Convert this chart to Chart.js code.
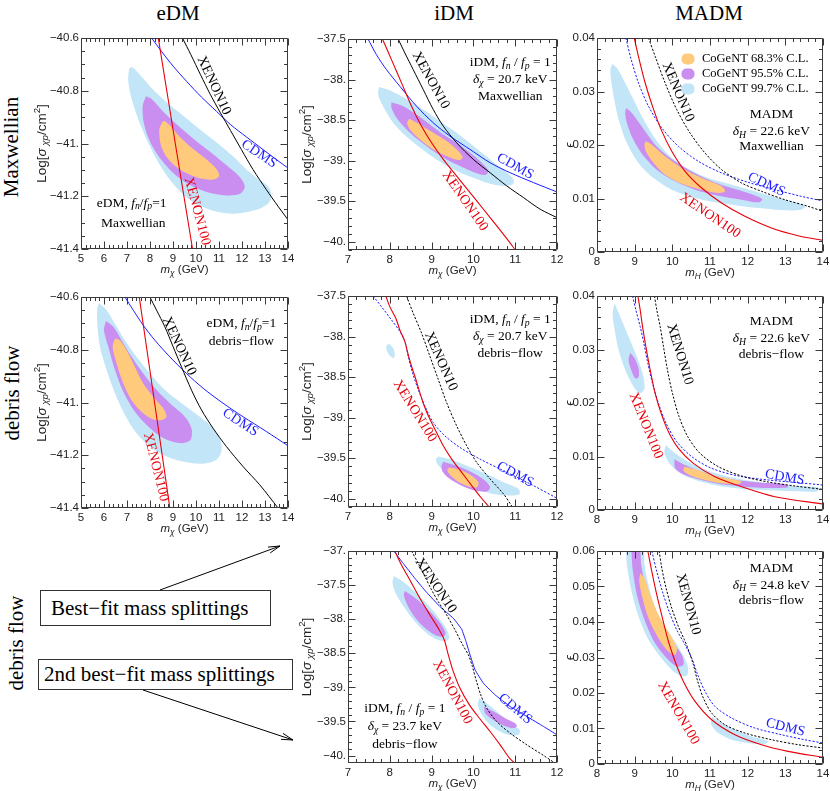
<!DOCTYPE html>
<html><head><meta charset="utf-8">
<script src="https://cdn.jsdelivr.net/npm/chart.js@4.4.1/dist/chart.umd.min.js"></script>
<style>
html,body{margin:0;padding:0;background:#fff;}
body{position:relative;width:830px;height:791px;overflow:hidden;font-family:'Liberation Serif','Times New Roman',serif;color:#000;}
canvas{position:absolute;}
.lbl{position:absolute;font-size:21px;white-space:nowrap;line-height:1;}
.rot{transform:translate(-50%,-50%) rotate(-90deg);}
.ctr{transform:translate(-50%,-50%);}
.box{position:absolute;border:1px solid #333;font-size:21px;white-space:nowrap;box-sizing:border-box;}
</style></head><body>
<div class="lbl ctr" style="left:178px;top:12.5px">eDM</div>
<div class="lbl ctr" style="left:454px;top:12.5px">iDM</div>
<div class="lbl ctr" style="left:709px;top:12.5px">MADM</div>
<div class="lbl rot" style="left:11px;top:147px">Maxwellian</div>
<div class="lbl rot" style="left:12px;top:393px">debris flow</div>
<div class="lbl rot" style="left:16px;top:643px">debris flow</div>
<div class="box" style="left:40px;top:590px;width:231px;height:36px;line-height:34px;padding-left:10px">Best−fit mass splittings</div>
<div class="box" style="left:38px;top:659px;width:255px;height:31px;line-height:29px;padding-left:5px">2nd best−fit mass splittings</div>
<svg width="830" height="791" style="position:absolute;left:0;top:0">
<g stroke="#000" stroke-width="1" fill="none">
<line x1="160" y1="590" x2="280" y2="546"/>
<polyline points="268,547.1 280,546 270.2,552.9"/>
<line x1="143" y1="690" x2="293" y2="740"/>
<polyline points="283,733.4 293,740 281,739.3"/>
</g></svg>
<script>
// ---------- tick values / labels ----------
const EDM_X = [5,6,7,8,9,10,11,12,13,14];
const EDM_X_LABELS = ['5','6','7','8','9','10','11','12','13','14'];
const IDM_X = [7,8,9,10,11,12];
const IDM_X_LABELS = ['7','8','9','10','11','12'];
const MADM_X = [8,9,10,11,12,13,14];
const MADM_X_LABELS = ['8','9','10','11','12','13','14'];
const EDM_Y = [-41.4,-41.2,-41,-40.8,-40.6];
const EDM_Y_LABELS = ['−41.4','−41.2','−41.','−40.8','−40.6'];
const IDM_Y = [-40,-39.5,-39,-38.5,-38,-37.5];
const IDM_Y_LABELS = ['−40.','−39.5','−39.','−38.5','−38.','−37.5'];
const IDM2_Y = [-40,-39.5,-39,-38.5,-38,-37.5,-37];
const IDM2_Y_LABELS = ['−40.','−39.5','−39.','−38.5','−38.','−37.5','−37.'];
const MADM_Y = [0,0.01,0.02,0.03,0.04];
const MADM_Y_LABELS = ['0','0.01','0.02','0.03','0.04'];
const MADM2_Y = [0,0.01,0.02,0.03,0.04,0.05,0.06];
const MADM2_Y_LABELS = ['0','0.01','0.02','0.03','0.04','0.05','0.06'];
const LEGEND_LABELS = ['CoGeNT 68.3% C.L.','CoGeNT 95.5% C.L.','CoGeNT 99.7% C.L.'];

// ---------- panel 1: eDM Maxwellian ----------
const P1_BLUE = [[7.10,-40.714],[7.05,-40.758],[7.17,-40.821],[7.42,-40.891],[7.73,-40.960],[8.14,-41.036],[8.65,-41.112],[9.23,-41.175],[9.95,-41.226],[10.82,-41.257],[11.68,-41.266],[12.55,-41.253],[13.13,-41.228],[13.28,-41.194],[13.13,-41.162],[12.70,-41.135],[12.19,-41.099],[11.69,-41.055],[11.11,-41.011],[10.46,-40.967],[9.66,-40.910],[8.86,-40.853],[8.14,-40.796],[7.56,-40.739],[7.24,-40.711]];
const P1_MAG = [[7.82,-40.821],[7.68,-40.859],[7.73,-40.922],[8.00,-40.992],[8.43,-41.055],[9.01,-41.112],[9.66,-41.154],[10.46,-41.184],[11.32,-41.197],[11.93,-41.190],[12.12,-41.162],[11.90,-41.127],[11.47,-41.093],[10.89,-41.051],[10.24,-41.007],[9.59,-40.960],[8.94,-40.910],[8.43,-40.865],[8.07,-40.831]];
const P1_ORG = [[8.55,-40.916],[8.40,-40.950],[8.49,-41.011],[8.79,-41.059],[9.30,-41.099],[10.02,-41.128],[10.72,-41.137],[11.00,-41.124],[10.89,-41.097],[10.46,-41.061],[9.88,-41.021],[9.30,-40.975],[8.86,-40.932],[8.65,-40.916]];
const P1_XE100 = [[8.36,-40.6],[9.10,-41.0],[9.85,-41.4]];
const P1_XE10 = [[9.41,-40.6],[9.775,-40.663],[10.195,-40.739],[10.629,-40.815],[11.063,-40.884],[11.497,-40.950],[11.974,-41.023],[12.481,-41.099],[13.06,-41.175],[13.566,-41.238],[14.0,-41.289]];
const P1_CDMS = [[8.068,-40.6],[8.502,-40.651],[9.008,-40.707],[9.587,-40.764],[10.238,-40.824],[10.889,-40.878],[11.511,-40.929],[12.191,-40.975],[12.915,-41.023],[13.494,-41.061],[14.0,-41.093]];

// ---------- panel 2: iDM Maxwellian ----------
const P2_BLUE = [[7.744,-38.090],[8.000,-38.131],[8.400,-38.238],[8.800,-38.369],[9.200,-38.512],[9.600,-38.656],[10.000,-38.820],[10.400,-38.984],[10.760,-39.127],[10.960,-39.230],[10.944,-39.291],[10.720,-39.311],[10.400,-39.283],[10.000,-39.209],[9.600,-39.127],[9.200,-39.012],[8.800,-38.869],[8.400,-38.705],[8.080,-38.533],[7.840,-38.328],[7.720,-38.184]];
const P2_MAG = [[8.04,-38.279],[8.32,-38.328],[8.64,-38.430],[8.96,-38.553],[9.28,-38.676],[9.60,-38.779],[9.92,-38.902],[10.20,-39.025],[10.36,-39.127],[10.28,-39.176],[10.04,-39.148],[9.68,-39.066],[9.36,-38.984],[9.04,-38.881],[8.72,-38.758],[8.40,-38.615],[8.16,-38.471],[8.04,-38.348]];
const P2_ORG = [[8.464,-38.484],[8.72,-38.553],[9.04,-38.656],[9.36,-38.758],[9.64,-38.881],[9.744,-38.963],[9.64,-38.992],[9.36,-38.943],[9.04,-38.861],[8.72,-38.738],[8.48,-38.615],[8.416,-38.533]];
const P2_XE100 = [[7.824,-37.5],[8.04,-37.754],[8.28,-38.041],[8.52,-38.328],[8.76,-38.574],[9.00,-38.779],[9.28,-38.984],[9.60,-39.189],[9.92,-39.393],[10.24,-39.598],[10.56,-39.803],[10.84,-39.988],[11.00,-40.098]];
const P2_XE10 = [[8.20,-37.5],[8.36,-37.672],[8.56,-37.877],[8.80,-38.123],[9.04,-38.369],[9.28,-38.574],[9.60,-38.779],[10.00,-38.984],[10.40,-39.148],[10.80,-39.311],[11.20,-39.455],[11.60,-39.598],[12.00,-39.701]];
const P2_CDMS = [[7.48,-37.5],[7.68,-37.693],[7.92,-37.877],[8.24,-38.082],[8.64,-38.328],[9.04,-38.533],[9.44,-38.697],[9.92,-38.861],[10.40,-39.025],[10.88,-39.148],[11.44,-39.270],[12.00,-39.385]];

// ---------- panel 3: MADM Maxwellian ----------
const P3_BLUE = [[8.415,0.03514],[8.529,0.03439],[8.706,0.03221],[8.926,0.02909],[9.191,0.02536],[9.500,0.02162],[9.897,0.01819],[10.382,0.01570],[10.956,0.01383],[11.574,0.01259],[12.191,0.01134],[12.809,0.01009],[13.338,0.00916],[13.532,0.00854],[13.426,0.00791],[12.985,0.00779],[12.368,0.00816],[11.750,0.00866],[11.132,0.00928],[10.515,0.01028],[9.985,0.01165],[9.500,0.01383],[9.103,0.01664],[8.794,0.02037],[8.574,0.02474],[8.441,0.02910],[8.362,0.03283],[8.362,0.03439]];
const P3_MAG = [[8.776,0.02692],[8.882,0.02629],[9.059,0.02473],[9.279,0.02255],[9.544,0.02006],[9.941,0.01757],[10.427,0.01539],[10.956,0.01352],[11.574,0.01196],[12.147,0.01072],[12.385,0.00991],[12.297,0.00928],[11.838,0.00978],[11.221,0.01053],[10.603,0.01165],[10.074,0.01321],[9.588,0.01539],[9.209,0.01819],[8.944,0.02131],[8.794,0.02411],[8.750,0.02598]];
const P3_ORG = [[9.297,0.02069],[9.456,0.02006],[9.809,0.01788],[10.250,0.01570],[10.779,0.01383],[11.309,0.01227],[11.397,0.01134],[11.221,0.01103],[10.779,0.01165],[10.250,0.01277],[9.809,0.01445],[9.500,0.01664],[9.297,0.01882],[9.262,0.02006]];
const P3_XE100 = [[8.988,0.04],[9.121,0.03595],[9.279,0.03159],[9.474,0.02723],[9.703,0.02287],[9.985,0.01882],[10.338,0.01508],[10.779,0.01196],[11.309,0.00916],[11.926,0.00667],[12.632,0.00449],[13.338,0.00305],[14.0,0.00218]];
const P3_XE10 = [[9.368,0.04],[9.544,0.03657],[9.809,0.03159],[10.118,0.02660],[10.471,0.02224],[10.868,0.01850],[11.309,0.01539],[11.838,0.01290],[12.368,0.01134],[12.985,0.00978],[13.603,0.00854],[14.0,0.00760]];
const P3_CDMS = [[8.768,0.04],[8.909,0.03595],[9.103,0.03159],[9.368,0.02723],[9.721,0.02318],[10.162,0.01975],[10.691,0.01695],[11.309,0.01477],[12.015,0.01302],[12.721,0.01165],[13.426,0.01040],[14.0,0.00953]];

// ---------- panel 4: eDM debris flow ----------
const P4_BLUE = [[5.781,-40.623],[6.114,-40.650],[6.476,-40.701],[6.910,-40.764],[7.416,-40.827],[7.995,-40.890],[8.646,-40.953],[9.370,-41.003],[10.166,-41.054],[10.745,-41.098],[11.063,-41.142],[11.106,-41.186],[10.889,-41.217],[10.310,-41.232],[9.587,-41.227],[8.719,-41.205],[7.995,-41.167],[7.416,-41.117],[6.910,-41.047],[6.476,-40.965],[6.114,-40.877],[5.825,-40.789],[5.709,-40.701],[5.709,-40.644]];
const P4_MAG = [[6.085,-40.691],[6.404,-40.713],[6.765,-40.764],[7.199,-40.827],[7.706,-40.890],[8.285,-40.953],[8.936,-41.009],[9.515,-41.054],[9.804,-41.098],[9.761,-41.142],[9.298,-41.154],[8.574,-41.135],[7.923,-41.091],[7.344,-41.035],[6.838,-40.959],[6.476,-40.877],[6.187,-40.789],[5.998,-40.726]];
const P4_ORG = [[6.476,-40.757],[6.693,-40.764],[6.982,-40.802],[7.344,-40.865],[7.706,-40.928],[8.140,-40.978],[8.574,-41.022],[8.719,-41.054],[8.502,-41.066],[8.140,-41.064],[7.706,-41.041],[7.199,-40.991],[6.838,-40.928],[6.548,-40.852],[6.375,-40.789]];
const P4_XE100 = [[7.532,-40.6],[8.198,-41.0],[8.863,-41.4]];
const P4_XE10 = [[7.995,-40.6],[8.285,-40.650],[8.646,-40.713],[9.008,-40.789],[9.370,-40.865],[9.804,-40.953],[10.238,-41.028],[10.745,-41.098],[11.323,-41.167],[12.047,-41.243],[12.770,-41.312],[13.566,-41.400]];
const P4_CDMS = [[6.910,-40.6],[7.272,-40.650],[7.706,-40.707],[8.212,-40.764],[8.863,-40.827],[9.587,-40.890],[10.310,-40.946],[11.179,-41.003],[12.047,-41.054],[13.060,-41.110],[14.000,-41.164]];

// ---------- panel 5: iDM debris flow ----------
const P5_BLUE_A = [[7.976,-38.088],[8.080,-38.141],[8.120,-38.223],[8.096,-38.264],[8.016,-38.243],[7.936,-38.182],[7.920,-38.113]];
const P5_BLUE_B = [[9.16,-39.477],[9.44,-39.510],[9.84,-39.592],[10.32,-39.694],[10.72,-39.796],[11.08,-39.877],[11.104,-39.939],[10.88,-39.959],[10.48,-39.939],[10.08,-39.877],[9.68,-39.796],[9.36,-39.694],[9.136,-39.571],[9.104,-39.510]];
const P5_MAG = [[9.28,-39.543],[9.60,-39.592],[9.96,-39.673],[10.28,-39.775],[10.40,-39.857],[10.32,-39.910],[10.04,-39.898],[9.72,-39.837],[9.44,-39.755],[9.264,-39.665],[9.24,-39.592]];
const P5_ORG = [[9.424,-39.612],[9.68,-39.641],[9.96,-39.714],[10.12,-39.796],[10.08,-39.857],[9.84,-39.837],[9.60,-39.775],[9.424,-39.694],[9.376,-39.641]];
const P5_XE100 = [[7.904,-37.5],[8.000,-37.631],[8.144,-37.774],[8.240,-37.917],[8.360,-38.060],[8.440,-38.223],[8.520,-38.366],[8.624,-38.529],[8.720,-38.693],[8.824,-38.856],[8.960,-39.020],[9.120,-39.183],[9.280,-39.346],[9.480,-39.510],[9.720,-39.673],[9.960,-39.837],[10.176,-39.980],[10.360,-40.090]];
const P5_XE10 = [[8.40,-37.5],[8.56,-37.712],[8.76,-37.958],[8.96,-38.243],[9.16,-38.529],[9.36,-38.815],[9.60,-39.101],[9.84,-39.346],[10.08,-39.551],[10.40,-39.755],[10.72,-39.939],[10.92,-40.090]];
const P5_CDMS = [[7.60,-37.5],[7.80,-37.631],[8.04,-37.794],[8.24,-37.937],[8.36,-38.060],[8.44,-38.243],[8.544,-38.448],[8.68,-38.652],[8.84,-38.856],[9.04,-39.060],[9.32,-39.224],[9.68,-39.367],[10.16,-39.510],[10.72,-39.653],[11.36,-39.816],[12.00,-39.992]];

// ---------- panel 6: MADM debris flow ----------
const P6_BLUE_A = [[8.468,0.03863],[8.618,0.03614],[8.838,0.03240],[9.059,0.02866],[9.209,0.02554],[9.262,0.02274],[9.147,0.02181],[8.971,0.02305],[8.750,0.02617],[8.574,0.02991],[8.468,0.03364],[8.415,0.03676]];
const P6_BLUE_B = [[9.827,0.01215],[10.029,0.01090],[10.338,0.00935],[10.779,0.00779],[11.309,0.00654],[11.926,0.00561],[12.632,0.00498],[13.250,0.00449],[13.868,0.00424],[13.868,0.00349],[13.250,0.00349],[12.544,0.00368],[11.838,0.00399],[11.221,0.00455],[10.691,0.00542],[10.250,0.00667],[9.941,0.00854],[9.791,0.01072]];
const P6_MAG_A = [[8.882,0.02941],[8.997,0.02835],[9.103,0.02648],[9.103,0.02480],[9.015,0.02461],[8.909,0.02617],[8.838,0.02804]];
const P6_MAG_B = [[10.056,0.00947],[10.338,0.00841],[10.779,0.00717],[11.309,0.00611],[11.838,0.00548],[12.368,0.00511],[12.985,0.00486],[13.074,0.00424],[12.544,0.00411],[11.926,0.00436],[11.309,0.00480],[10.779,0.00561],[10.338,0.00654],[10.074,0.00779]];
const P6_ORG = [[10.321,0.00810],[10.603,0.00760],[11.044,0.00654],[11.574,0.00573],[11.838,0.00530],[11.750,0.00486],[11.309,0.00498],[10.868,0.00561],[10.515,0.00636],[10.294,0.00735]];
const P6_XE100 = [[9.085,0.04],[9.147,0.03738],[9.209,0.03427],[9.297,0.03053],[9.412,0.02617],[9.544,0.02181],[9.703,0.01807],[9.897,0.01464],[10.162,0.01153],[10.559,0.00872],[11.132,0.00623],[11.838,0.00436],[12.721,0.00249],[14.0,0.00112]];
const P6_XE10 = [[9.526,0.04],[9.588,0.03738],[9.677,0.03427],[9.765,0.03053],[9.871,0.02617],[10.003,0.02181],[10.179,0.01745],[10.409,0.01371],[10.735,0.01059],[11.221,0.00810],[11.838,0.00636],[12.544,0.00523],[13.250,0.00449],[14.0,0.00386]];
const P6_CDMS = [[8.944,0.04],[9.032,0.03738],[9.147,0.03427],[9.244,0.03115],[9.350,0.02741],[9.474,0.02368],[9.632,0.01994],[9.835,0.01620],[10.118,0.01277],[10.515,0.00997],[11.044,0.00779],[11.750,0.00636],[12.544,0.00561],[13.338,0.00511],[14.0,0.00467]];

// ---------- panel 7: iDM 2nd best-fit ----------
const P7_BLUE_A = [[8.096,-37.366],[8.320,-37.450],[8.600,-37.596],[8.880,-37.767],[9.120,-37.938],[9.320,-38.109],[9.424,-38.256],[9.360,-38.319],[9.160,-38.305],[8.880,-38.207],[8.600,-38.036],[8.360,-37.840],[8.160,-37.645],[8.064,-37.474]];
const P7_BLUE_B = [[10.144,-39.160],[10.320,-39.233],[10.560,-39.355],[10.840,-39.502],[11.104,-39.624],[11.080,-39.697],[10.840,-39.697],[10.560,-39.624],[10.320,-39.502],[10.160,-39.355],[10.104,-39.233]];
const P7_MAG_A = [[8.36,-37.586],[8.56,-37.669],[8.80,-37.792],[9.04,-37.938],[9.24,-38.085],[9.336,-38.207],[9.28,-38.256],[9.08,-38.231],[8.80,-38.109],[8.56,-37.938],[8.40,-37.767],[8.336,-37.645]];
const P7_MAG_B = [[10.256,-39.282],[10.480,-39.355],[10.760,-39.453],[11.000,-39.526],[11.040,-39.575],[10.920,-39.599],[10.680,-39.550],[10.440,-39.463],[10.280,-39.379]];
const P7_XE100 = [[8.12,-37.0],[8.28,-37.205],[8.48,-37.425],[8.72,-37.694],[8.96,-37.938],[9.184,-38.158],[9.304,-38.305],[9.40,-38.524],[9.52,-38.769],[9.68,-39.013],[9.904,-39.257],[10.144,-39.453],[10.40,-39.648],[10.64,-39.844],[10.864,-40.039],[10.992,-40.112]];
const P7_XE10 = [[8.52,-37.0],[8.68,-37.181],[8.84,-37.376],[9.00,-37.572],[9.16,-37.743],[9.36,-37.938],[9.56,-38.158],[9.744,-38.378],[9.88,-38.524],[9.976,-38.695],[10.064,-38.891],[10.176,-39.111],[10.32,-39.306],[10.56,-39.502],[10.88,-39.673],[11.28,-39.844],[11.68,-40.000],[11.92,-40.098]];
const P7_CDMS = [[8.096,-37.0],[8.32,-37.181],[8.60,-37.401],[8.88,-37.606],[9.20,-37.816],[9.52,-37.987],[9.72,-38.148],[9.824,-38.329],[9.92,-38.524],[10.04,-38.744],[10.24,-38.940],[10.52,-39.111],[10.88,-39.282],[11.28,-39.428],[11.68,-39.575],[12.00,-39.697]];

// ---------- panel 8: MADM 2nd best-fit ----------
const P8_BLUE_A = [[8.768,0.06122],[9.209,0.06122],[9.262,0.05606],[9.385,0.04950],[9.588,0.04294],[9.897,0.03731],[10.206,0.03216],[10.400,0.02794],[10.400,0.02513],[10.250,0.02466],[9.985,0.02653],[9.676,0.03028],[9.368,0.03497],[9.103,0.04153],[8.909,0.04903],[8.794,0.05606]];
const P8_BLUE_B = [[11.062,0.01341],[11.309,0.01153],[11.662,0.00966],[12.103,0.00778],[12.544,0.00638],[12.456,0.00563],[12.015,0.00591],[11.574,0.00684],[11.221,0.00872],[11.027,0.01125]];
const P8_MAG = [[8.909,0.06122],[9.121,0.06122],[9.174,0.05606],[9.324,0.04856],[9.588,0.04106],[9.941,0.03497],[10.250,0.03075],[10.294,0.02794],[10.118,0.02747],[9.853,0.02981],[9.544,0.03403],[9.262,0.04059],[9.059,0.04763],[8.944,0.05513]];
const P8_ORG = [[9.147,0.05372],[9.262,0.05231],[9.412,0.04763],[9.632,0.04200],[9.941,0.03638],[10.118,0.03263],[10.074,0.03075],[9.897,0.03169],[9.632,0.03544],[9.368,0.04106],[9.209,0.04669],[9.121,0.05138]];
const P8_XE100 = [[9.350,0.06],[9.456,0.05419],[9.588,0.04763],[9.738,0.04106],[9.897,0.03450],[10.074,0.02888],[10.294,0.02325],[10.603,0.01763],[11.044,0.01247],[11.662,0.00825],[12.368,0.00544],[13.074,0.00356],[14.0,0.00188]];
const P8_XE10 = [[9.650,0.06],[9.721,0.05513],[9.835,0.04950],[9.985,0.04388],[10.162,0.03872],[10.321,0.03497],[10.444,0.03169],[10.559,0.02794],[10.674,0.02325],[10.824,0.01856],[11.044,0.01434],[11.397,0.01106],[11.926,0.00872],[12.632,0.00684],[13.338,0.00544],[14.0,0.00450]];
const P8_CDMS = [[9.456,0.06],[9.588,0.05419],[9.738,0.04856],[9.915,0.04294],[10.118,0.03778],[10.338,0.03356],[10.515,0.02981],[10.674,0.02513],[10.868,0.02044],[11.132,0.01622],[11.574,0.01294],[12.191,0.01013],[12.897,0.00825],[13.515,0.00684],[14.0,0.00591]];

// ---------- styles ----------
const SERIF = "'Liberation Serif','Times New Roman',serif";
const SANS = "'Liberation Sans',Arial,sans-serif";
const COL = {blue:'#c3e5f8', mag:'#c98ef0', org:'#ffca7c', red:'#e8000a', black:'#000000', cdms:'#1c1cff'};

const T_FNFP = (pre) => [[pre,''],['f','i'],['n','ib'],[' / ',''],['f','i'],['p','ib'],[' = 1','']];
const T_FNFP_TIGHT = (pre) => [[pre,''],['f','i'],['n','ib'],['/',''],['f','i'],['p','ib'],['=1','']];
const T_DCHI = (v) => [['δ','i'],['χ','ib'],[' = '+v+' keV','']];
const T_DH = (v) => [['δ','i'],['H','ib'],[' = '+v+' keV','']];
const XT_CHI = [['m','i'],['χ','ib'],[' (GeV)','']];
const XT_H = [['m','i'],['H','ib'],[' (GeV)','']];
const YT_LOG = [['Log[',''],['σ','i'],[' χp','ib'],['/cm',''],['2','p'],[']','']];
const YT_EPS = [['ϵ','']];

const PANELS = [
 {L:81,T:38,W:207,H:211,xMin:5,xMax:14,yMin:-41.4,yMax:-40.6,xT:EDM_X,xL:EDM_X_LABELS,yT:EDM_Y,yL:EDM_Y_LABELS,xMinor:0.2,yMinor:0.05,
  xTitle:XT_CHI,yTitle:YT_LOG,yOff:39,blue:[P1_BLUE],mag:[P1_MAG],org:[P1_ORG],red:P1_XE100,black:P1_XE10,cdms:P1_CDMS,dB:false,dC:false,
  notes:[['XENON10',10.78,-40.78,65,'black'],['CDMS',12.74,-41.04,34,'cdms'],['XENON100',10.05,-41.257,75,'red']],
  info:[[T_FNFP_TIGHT('eDM, '),7.2,-41.226],[[['Maxwellian','']],7.27,-41.302]]},
 {L:348,T:39,W:209,H:211,xMin:7,xMax:12,yMin:-40.1,yMax:-37.5,xT:IDM_X,xL:IDM_X_LABELS,yT:IDM_Y,yL:IDM_Y_LABELS,xMinor:0.2,yMinor:0.1,
  xTitle:XT_CHI,yTitle:YT_LOG,yOff:41,blue:[P2_BLUE],mag:[P2_MAG],org:[P2_ORG],red:P2_XE100,black:P2_XE10,cdms:P2_CDMS,dB:false,dC:false,
  notes:[['XENON10',8.98,-38.01,61,'black'],['CDMS',11.0,-39.07,29,'cdms'],['XENON100',9.8,-39.496,55,'red']],
  info:[[T_FNFP('iDM, '),10.88,-37.795],[T_DCHI('20.7'),10.88,-38.0],[[['Maxwellian','']],10.88,-38.205]]},
 {L:597,T:38,W:226,H:214,xMin:8,xMax:14,yMin:0,yMax:0.04,xT:MADM_X,xL:MADM_X_LABELS,yT:MADM_Y,yL:MADM_Y_LABELS,xMinor:0.2,yMinor:0.002,
  xTitle:XT_H,yTitle:YT_EPS,yOff:27,blue:[P3_BLUE],mag:[P3_MAG],org:[P3_ORG],red:P3_XE100,black:P3_XE10,cdms:P3_CDMS,dB:true,dC:true,legend:true,
  notes:[['XENON10',10.15,0.0299,67,'black'],['CDMS',12.5,0.0126,25,'cdms'],['XENON100',11.0,0.0068,34,'red']],
  info:[[[['MADM','']],12.63,0.02567],[T_DH('22.6'),12.63,0.02255],[[['Maxwellian','']],12.63,0.01975]]},
 {L:81,T:297,W:207,H:211,xMin:5,xMax:14,yMin:-41.4,yMax:-40.6,xT:EDM_X,xL:EDM_X_LABELS,yT:EDM_Y,yL:EDM_Y_LABELS,xMinor:0.2,yMinor:0.05,
  xTitle:XT_CHI,yTitle:YT_LOG,yOff:39,blue:[P4_BLUE],mag:[P4_MAG],org:[P4_ORG],red:P4_XE100,black:P4_XE10,cdms:P4_CDMS,dB:false,dC:false,
  notes:[['XENON10',9.27,-40.786,65,'black'],['CDMS',11.93,-41.076,33,'cdms'],['XENON100',8.256,-41.245,76,'red']],
  info:[[T_FNFP_TIGHT('eDM, '),11.97,-40.701],[[['debris−flow','']],11.97,-40.770]]},
 {L:348,T:296,W:209,H:211,xMin:7,xMax:12,yMin:-40.1,yMax:-37.5,xT:IDM_X,xL:IDM_X_LABELS,yT:IDM_Y,yL:IDM_Y_LABELS,xMinor:0.2,yMinor:0.1,
  xTitle:XT_CHI,yTitle:YT_LOG,yOff:41,blue:[P5_BLUE_A,P5_BLUE_B],mag:[P5_MAG],org:[P5_ORG],red:P5_XE100,black:P5_XE10,cdms:P5_CDMS,dB:true,dC:true,
  notes:[['XENON10',9.22,-38.305,66,'black'],['XENON100',8.6,-38.917,58,'red'],['CDMS',11.0,-39.70,28,'cdms']],
  info:[[T_FNFP('iDM, '),10.88,-37.794],[T_DCHI('20.7'),10.88,-37.998],[[['debris−flow','']],10.88,-38.203]]},
 {L:597,T:296,W:226,H:214,xMin:8,xMax:14,yMin:0,yMax:0.04,xT:MADM_X,xL:MADM_X_LABELS,yT:MADM_Y,yL:MADM_Y_LABELS,xMinor:0.2,yMinor:0.002,
  xTitle:XT_H,yTitle:YT_EPS,yOff:27,blue:[P6_BLUE_A,P6_BLUE_B],mag:[P6_MAG_A,P6_MAG_B],org:[P6_ORG],red:P6_XE100,black:P6_XE10,cdms:P6_CDMS,dB:true,dC:true,
  notes:[['XENON10',10.2,0.0291,73,'black'],['XENON100',9.297,0.01576,68,'red'],['CDMS',12.985,0.0061,10,'cdms']],
  info:[[[['MADM','']],12.63,0.0352],[T_DH('22.6'),12.63,0.0321],[[['debris−flow','']],12.63,0.0290]]},
 {L:348,T:551,W:209,H:212,xMin:7,xMax:12,yMin:-40.11,yMax:-37,xT:IDM_X,xL:IDM_X_LABELS,yT:IDM2_Y,yL:IDM2_Y_LABELS,xMinor:0.2,yMinor:0.1,
  xTitle:XT_CHI,yTitle:YT_LOG,yOff:41,blue:[P7_BLUE_A,P7_BLUE_B],mag:[P7_MAG_A,P7_MAG_B],org:[],red:P7_XE100,black:P7_XE10,cdms:P7_CDMS,dB:true,dC:false,
  notes:[['XENON10',9.1,-37.508,56,'black'],['XENON100',9.496,-39.072,62,'red'],['CDMS',11.0,-39.316,40,'cdms']],
  info:[[T_FNFP('iDM, '),8.36,-39.306],[T_DCHI('23.7'),8.36,-39.575],[[['debris−flow','']],8.36,-39.834]]},
 {L:597,T:551,W:226,H:213,xMin:8,xMax:14,yMin:0,yMax:0.06,xT:MADM_X,xL:MADM_X_LABELS,yT:MADM2_Y,yL:MADM2_Y_LABELS,xMinor:0.2,yMinor:0.002,
  xTitle:XT_H,yTitle:YT_EPS,yOff:27,blue:[P8_BLUE_A,P8_BLUE_B],mag:[P8_MAG],org:[P8_ORG],red:P8_XE100,black:P8_XE10,cdms:P8_CDMS,dB:true,dC:true,
  notes:[['XENON10',10.42,0.045,75,'black'],['XENON100',10.162,0.01434,60,'red'],['CDMS',13.003,0.0103,14,'cdms']],
  info:[[[['MADM','']],12.63,0.0551],[T_DH('24.8'),12.63,0.0504],[[['debris−flow','']],12.63,0.0462]]}
];

// ---------- helpers ----------
function richText(ctx, segs, x, y, size, family, color, angle, align) {
  ctx.save();
  ctx.translate(x, y);
  if (angle) ctx.rotate(angle * Math.PI / 180);
  let total = 0;
  const parts = segs.map(([t, st]) => {
    const it = st.includes('i'), sub = st.includes('b'), sup = st.includes('p');
    const fs = (sub || sup) ? size * 0.72 : size;
    const font = (it ? 'italic ' : '') + fs + 'px ' + family;
    ctx.font = font;
    const w = ctx.measureText(t).width;
    total += w;
    return {t, font, w, dy: sub ? size * 0.28 : (sup ? -size * 0.36 : 0)};
  });
  let cx = align === 'left' ? 0 : -total / 2;
  ctx.textBaseline = 'middle';
  ctx.fillStyle = color;
  for (const p of parts) { ctx.font = p.font; ctx.fillText(p.t, cx, p.dy); cx += p.w; }
  ctx.restore();
}

function decoPlugin(p) {
  return {
    id: 'deco',
    afterDraw(chart) {
      const ctx = chart.ctx, a = chart.chartArea, xs = chart.scales.x, ys = chart.scales.y;
      const L = Math.round(a.left) + 0.5, R = Math.round(a.right) - 0.5, T = Math.round(a.top) + 0.5, B = Math.round(a.bottom) - 0.5;
      ctx.save();
      ctx.strokeStyle = '#3a3a3a'; ctx.lineWidth = 1;
      ctx.beginPath(); ctx.rect(L, T, R - L, B - T); ctx.stroke();
      const isMajor = (v, arr) => arr.some(m => Math.abs(m - v) < 1e-7);
      ctx.beginPath();
      let n0 = Math.ceil(p.xMin / p.xMinor - 1e-6), n1 = Math.floor(p.xMax / p.xMinor + 1e-6);
      for (let n = n0; n <= n1; n++) {
        const v = n * p.xMinor, px = Math.round(xs.getPixelForValue(v)) + 0.5, len = isMajor(v, p.xT) ? 7 : 3.5;
        ctx.moveTo(px, B); ctx.lineTo(px, B - len); ctx.moveTo(px, T); ctx.lineTo(px, T + len);
      }
      n0 = Math.ceil(p.yMin / p.yMinor - 1e-6); n1 = Math.floor(p.yMax / p.yMinor + 1e-6);
      for (let n = n0; n <= n1; n++) {
        const v = n * p.yMinor, py = Math.round(ys.getPixelForValue(v)) + 0.5, len = isMajor(v, p.yT) ? 7 : 3.5;
        ctx.moveTo(L, py); ctx.lineTo(L + len, py); ctx.moveTo(R, py); ctx.lineTo(R - len, py);
      }
      ctx.stroke();
      ctx.restore();
      // axis titles
      richText(ctx, p.xTitle, (a.left + a.right) / 2, a.bottom + 21, 11.5, SANS, '#222', 0);
      richText(ctx, p.yTitle, a.left - p.yOff, (a.top + a.bottom) / 2, p.yTitle === YT_EPS ? 13 : 13.5, SANS, '#222', -90);
      // curve labels
      for (const [txt, x, y, ang, c] of p.notes) {
        richText(ctx, [[txt, '']], xs.getPixelForValue(x), ys.getPixelForValue(y), 14, SERIF, COL[c], ang);
      }
      // info texts
      for (const [segs, x, y] of p.info) {
        richText(ctx, segs, xs.getPixelForValue(x), ys.getPixelForValue(y), 13.5, SERIF, '#000', 0);
      }
      // legend
      if (p.legend) {
        const cols = [COL.org, COL.mag, COL.blue];
        LEGEND_LABELS.forEach((lab, i) => {
          const cy = a.top + 21 + i * 15, ix = a.left + 91;
          ctx.save();
          ctx.fillStyle = cols[i];
          ctx.beginPath();
          if (ctx.roundRect) ctx.roundRect(ix - 6.5, cy - 5.5, 13, 11, 5); else ctx.rect(ix - 6.5, cy - 5.5, 13, 11);
          ctx.fill();
          ctx.restore();
          richText(ctx, [[lab, '']], a.left + 105, cy, 12.5, SERIF, '#000', 0, 'left');
        });
      }
    }
  };
}

function makePanel(p, idx) {
  const padL = 50, padT = 12, padR = 12, padB = 34;
  const cw = p.W + padL + padR, ch = p.H + padT + padB;
  const cv = document.createElement('canvas');
  cv.width = cw; cv.height = ch;
  cv.style.left = (p.L - padL) + 'px'; cv.style.top = (p.T - padT) + 'px';
  cv.style.width = cw + 'px'; cv.style.height = ch + 'px';
  document.body.appendChild(cv);
  const datasets = [];
  const line = (label, pts, color, dash, w, ten) => datasets.push({
    label, data: pts.map(([x, y]) => ({x, y})), borderColor: color, borderWidth: w,
    borderDash: dash ? [2.2, 1.6] : [], pointRadius: 0, fill: false, tension: ten
  });
  const area = (label, pts, color) => datasets.push({
    label, data: pts.concat([pts[0]]).map(([x, y]) => ({x, y})), borderColor: color,
    backgroundColor: color, borderWidth: 0, pointRadius: 0, fill: 'shape', tension: 0.3
  });
  line('XENON100', p.red, COL.red, false, 1.1, 0.3);
  line('XENON10', p.black, COL.black, p.dB, 1, 0.3);
  line('CDMS', p.cdms, COL.cdms, p.dC, 1, idx === 6 ? 0.1 : 0.3);
  p.org.forEach(s => area(LEGEND_LABELS[0], s, COL.org));
  p.mag.forEach(s => area(LEGEND_LABELS[1], s, COL.mag));
  p.blue.forEach(s => area(LEGEND_LABELS[2], s, COL.blue));
  new Chart(cv, {
    type: 'line',
    data: {datasets},
    options: {
      responsive: false, animation: false, devicePixelRatio: 1, events: [],
      layout: {padding: {left: 0, top: padT, right: padR, bottom: 0}},
      plugins: {legend: {display: false}, tooltip: {enabled: false}},
      scales: {
        x: {type: 'linear', position: 'bottom', min: p.xMin, max: p.xMax,
            grid: {display: false, drawTicks: false}, border: {display: false},
            afterBuildTicks: s => { s.ticks = p.xT.map(v => ({value: v})); },
            afterFit: s => { s.height = padB; },
            ticks: {autoSkip: false, maxRotation: 0, minRotation: 0, padding: 3, color: '#222',
                    font: {family: SANS, size: 11.5}, callback: (v, i) => p.xL[i]}},
        y: {type: 'linear', position: 'left', min: p.yMin, max: p.yMax,
            grid: {display: false, drawTicks: false}, border: {display: false},
            afterBuildTicks: s => { s.ticks = p.yT.map(v => ({value: v})); },
            afterFit: s => { s.width = padL; },
            ticks: {autoSkip: false, padding: 2, color: '#222',
                    font: {family: SANS, size: 11.5}, callback: (v, i) => p.yL[i]}}
      }
    },
    plugins: [decoPlugin(p)]
  });
}

PANELS.forEach(makePanel);
</script>
</body></html>
